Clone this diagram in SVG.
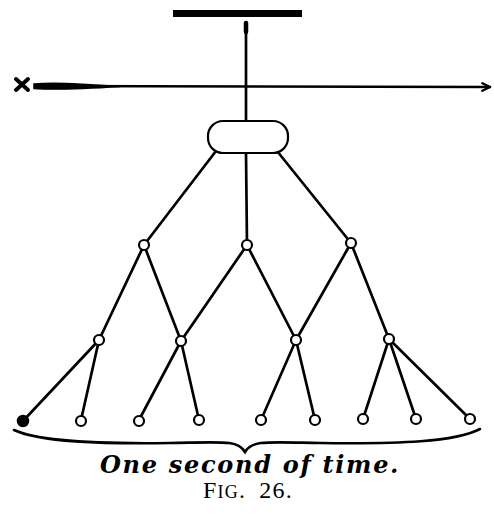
<svg xmlns="http://www.w3.org/2000/svg" width="494" height="518" viewBox="0 0 494 518">
<style>
.ln{stroke:#000;stroke-width:2.7;fill:none;stroke-linecap:round}
.nd{fill:#fff;stroke:#000;stroke-width:2.2}
.leaf{fill:#fff;stroke:#000;stroke-width:2.2}
.cap{fill:#000}
</style>
<defs>
<marker id="arr" viewBox="0 0 10 10" refX="9" refY="5" markerWidth="4" markerHeight="4" orient="auto" markerUnits="strokeWidth">
<path d="M1,1 L9,5 L1,9" fill="none" stroke="#000" stroke-width="2"/>
</marker>
</defs>
<rect width="494" height="518" fill="#fff"/>

<g id="connectors">
<path d="M246,24 L246,121" class="ln"/>
<path d="M246,23 L246,32" stroke="#000" stroke-width="4.5" stroke-linecap="round"/>
<path d="M36,86 L490,87" class="ln" stroke-width="2.2" marker-end="url(#arr)"/>
<path d="M34,84 C55,82 80,84 120,86.5 C80,89 55,90 34,88.5 Z" fill="#000" stroke="#000" stroke-width="1.5"/>
<path d="M216,151 L144,245" class="ln"/>
<path d="M246,153 L247,245" class="ln"/>
<path d="M277,151 L351,243" class="ln"/>
<path d="M144,245 L99,340" class="ln"/>
<path d="M144,245 L181,341" class="ln"/>
<path d="M247,245 L181,341" class="ln"/>
<path d="M247,245 L296,340" class="ln"/>
<path d="M351,243 L296,340" class="ln"/>
<path d="M351,243 L389,339" class="ln"/>
<path d="M99,340 L23,421" class="ln"/>
<path d="M99,340 L81,420" class="ln"/>
<path d="M181,341 L139,420" class="ln"/>
<path d="M181,341 L199,420" class="ln"/>
<path d="M296,340 L261,420" class="ln"/>
<path d="M296,340 L315,420" class="ln"/>
<path d="M389,339 L363,419" class="ln"/>
<path d="M389,339 L416,419" class="ln"/>
<path d="M389,339 L470,419" class="ln"/>
</g>

<g id="top-bar"><rect x="173" y="10" width="129" height="7" fill="#000"/></g>
<g id="x-mark"><path d="M16,79 L28,90 M28,79 L16,90" stroke="#000" stroke-width="4" stroke-linecap="round"/></g>
<g id="oval"><rect x="208" y="121" width="80" height="32" rx="15" ry="15" class="nd" stroke-width="2.7"/></g>

<g id="n1a"><circle cx="144" cy="245" r="5" class="nd"/></g>
<g id="n1b"><circle cx="247" cy="245" r="5" class="nd"/></g>
<g id="n1c"><circle cx="351" cy="243" r="5" class="nd"/></g>

<g id="n2a"><circle cx="99" cy="340" r="5" class="nd"/></g>
<g id="n2b"><circle cx="181" cy="341" r="5" class="nd"/></g>
<g id="n2c"><circle cx="296" cy="340" r="5" class="nd"/></g>
<g id="n2d"><circle cx="389" cy="339" r="5" class="nd"/></g>

<g id="leaf1"><circle cx="23" cy="421" r="5.5" fill="#000" stroke="#000" stroke-width="1.5"/></g>
<g id="leaf2"><circle cx="81" cy="421" r="5" class="leaf"/></g>
<g id="leaf3"><circle cx="139" cy="421" r="5" class="leaf"/></g>
<g id="leaf4"><circle cx="199" cy="420" r="5" class="leaf"/></g>
<g id="leaf5"><circle cx="261" cy="420" r="5" class="leaf"/></g>
<g id="leaf6"><circle cx="315" cy="420" r="5" class="leaf"/></g>
<g id="leaf7"><circle cx="363" cy="419" r="5" class="leaf"/></g>
<g id="leaf8"><circle cx="416" cy="419" r="5" class="leaf"/></g>
<g id="leaf9"><circle cx="470" cy="419" r="5" class="leaf"/></g>

<g id="brace">
<path d="M14,430 C40,442 100,444 170,443 C225,442 238,440 245,452 C252,440 265,442 320,443 C400,444 455,442 480,429" fill="none" stroke="#000" stroke-width="2.6" stroke-linecap="round"/>
</g>

<g id="caption">
<text x="100" y="473" class="cap" font-family="'DejaVu Serif',serif" font-size="24" font-weight="bold" font-style="italic" letter-spacing="1.7">One second of time.</text>
<text x="203" y="498" class="cap" font-family="'Liberation Serif',serif" font-size="24" letter-spacing="1.2" word-spacing="6">F<tspan font-size="18">IG</tspan>. 26.</text>
</g>
</svg>
